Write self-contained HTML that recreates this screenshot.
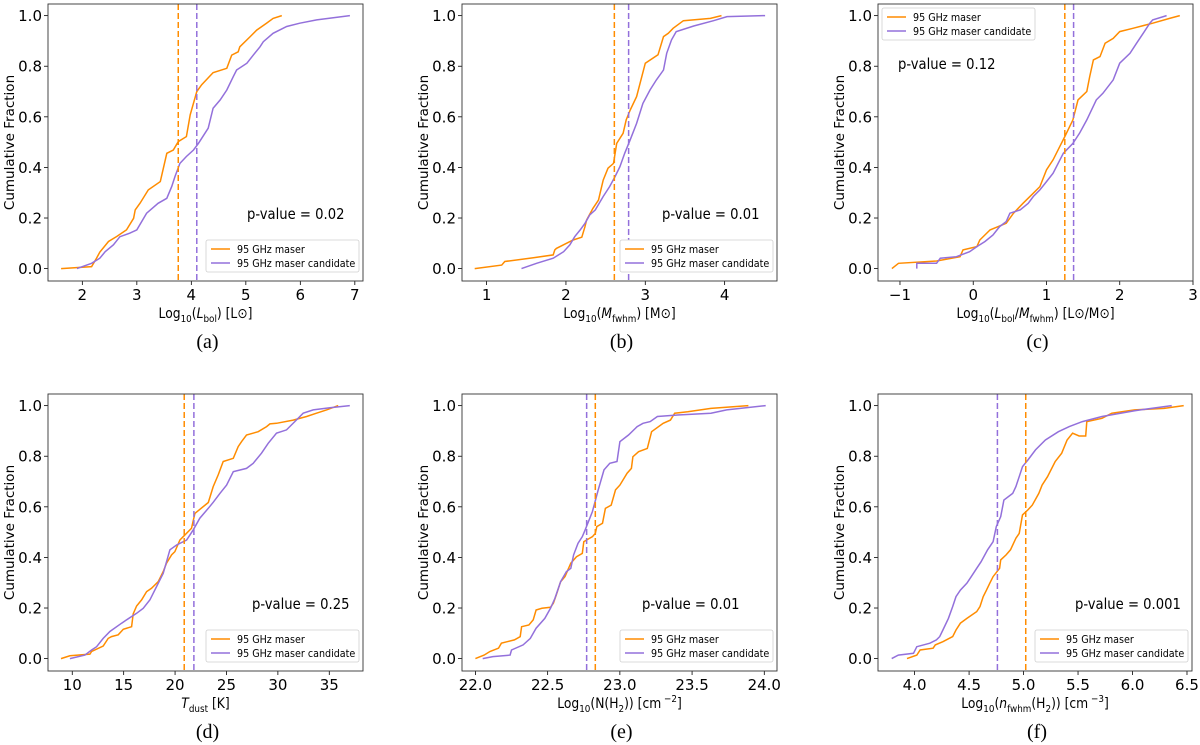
<!DOCTYPE html>
<html><head><meta charset="utf-8"><style>
body{margin:0;background:#fff;width:1200px;height:745px;overflow:hidden}
svg{display:block}
text{font-family:"DejaVu Sans","Liberation Sans",sans-serif;fill:#000}
.cap{font-family:"Liberation Serif",serif;font-size:20px}
</style></head><body>
<svg id="fig" width="1200" height="745" viewBox="0 0 1200 745" xmlns="http://www.w3.org/2000/svg"></svg>
<script>
// ---- data (a) ----
const aOrangeX=[1.61,2.17,2.26,2.32,2.48,2.63,2.81,2.94,2.97,3.06,3.21,3.43,3.55,3.67,3.76,3.91,3.98,4.10,4.19,4.40,4.65,4.74,4.86,4.89,5.08,5.20,5.38,5.50,5.66];
const aOrangeY=[0,.008,.041,.065,.107,.127,.153,.199,.232,.259,.311,.344,.456,.469,.502,.522,.608,.700,.727,.775,.792,.844,.857,.877,.917,.943,.970,.989,1];
const aPurpleX=[1.90,2.17,2.32,2.42,2.57,2.69,2.87,3.00,3.18,3.39,3.55,3.64,3.70,3.79,3.91,4.04,4.13,4.19,4.31,4.40,4.53,4.65,4.77,4.83,5.02,5.14,5.26,5.32,5.50,5.75,5.99,6.30,6.91];
const aPurpleY=[0,.021,.041,.067,.094,.126,.140,.153,.219,.258,.278,.324,.364,.416,.443,.469,.495,.515,.555,.634,.667,.706,.759,.785,.812,.845,.877,.897,.930,.957,.970,.983,1];
const aMedians=[3.76,4.10];
// ---- data (b) ----
const bOrangeX=[0.85,1.19,1.23,1.59,1.84,1.86,1.88,2.09,2.20,2.24,2.26,2.34,2.41,2.43,2.47,2.53,2.60,2.64,2.72,2.76,2.81,2.89,3.00,3.16,3.23,3.29,3.35,3.48,3.82,3.96];
const bOrangeY=[0,.014,.028,.043,.054,.074,.080,.113,.124,.166,.192,.238,.271,.298,.350,.397,.416,.495,.535,.588,.627,.680,.812,.845,.917,.930,.950,.980,.989,1];
const bPurpleX=[1.44,1.63,1.84,1.97,2.05,2.11,2.18,2.24,2.30,2.37,2.47,2.55,2.62,2.68,2.74,2.81,2.89,2.97,3.06,3.14,3.23,3.27,3.33,3.39,3.61,3.86,4.03,4.51];
const bPurpleY=[0,.021,.041,.067,.094,.126,.153,.179,.212,.232,.285,.324,.364,.403,.456,.509,.574,.653,.706,.746,.785,.851,.904,.937,.959,.980,.996,1];
const bMedians=[2.61,2.79];
// ---- data (c) ----
const cOrangeX=[-1.11,-1.02,-0.50,-0.18,-0.14,0.05,0.09,0.23,0.45,0.55,0.68,0.82,0.91,1.00,1.09,1.18,1.25,1.36,1.43,1.55,1.59,1.64,1.73,1.80,1.91,2.00,2.18,2.45,2.68,2.82];
const cOrangeY=[0,.021,.030,.047,.074,.087,.113,.153,.179,.219,.258,.298,.324,.390,.430,.482,.522,.588,.667,.700,.759,.825,.838,.891,.910,.937,.950,.970,.989,1];
const cPurpleX=[-0.77,-0.77,-0.50,-0.45,-0.23,-0.05,0.05,0.16,0.27,0.36,0.45,0.50,0.64,0.75,0.82,0.91,1.00,1.09,1.23,1.36,1.45,1.55,1.68,1.77,1.91,2.00,2.14,2.23,2.32,2.41,2.45,2.64];
const cPurpleY=[0,.021,.021,.041,.047,.067,.087,.107,.133,.166,.186,.219,.232,.258,.285,.311,.344,.377,.456,.495,.535,.588,.667,.693,.746,.812,.851,.891,.930,.970,.983,1];
const cMedians=[1.25,1.37];
// ---- data (d) ----
const dOrangeX=[8.90,9.77,11.72,11.88,13.01,13.50,13.82,14.47,14.96,15.77,15.93,16.26,16.74,17.23,17.71,18.36,18.85,19.17,19.66,19.98,20.47,20.79,21.60,21.93,23.23,23.71,24.20,24.68,25.66,26.14,26.47,26.95,28.09,28.90,29.22,29.87,31.49,32.79,33.76,34.73,35.87];
const dOrangeY=[0,.011,.018,.028,.050,.080,.087,.094,.116,.126,.177,.208,.232,.265,.278,.304,.344,.377,.410,.423,.469,.482,.515,.574,.617,.680,.726,.779,.792,.838,.858,.884,.897,.917,.928,.930,.943,.957,.970,.983,1];
const dPurpleX=[9.77,11.23,11.88,12.37,13.01,13.66,14.80,15.28,16.26,16.90,17.55,18.20,18.85,19.50,20.15,21.12,21.77,22.41,23.23,23.71,24.36,25.01,25.66,26.95,27.60,28.41,29.06,29.87,30.84,31.65,32.46,33.44,35.06,37.0];
const dPurpleY=[0,.014,.034,.047,.080,.107,.140,.153,.179,.199,.232,.285,.337,.430,.449,.469,.509,.555,.594,.618,.653,.686,.739,.752,.772,.812,.851,.891,.904,.937,.970,.983,.992,1];
const dMedians=[20.89,21.83];
// ---- data (e) ----
const eOrangeX=[22.0,22.06,22.10,22.16,22.18,22.22,22.27,22.31,22.32,22.37,22.40,22.42,22.46,22.52,22.54,22.56,22.59,22.62,22.66,22.70,22.74,22.75,22.77,22.81,22.83,22.84,22.88,22.90,22.94,22.97,23.00,23.05,23.08,23.09,23.13,23.19,23.22,23.30,23.35,23.38,23.47,23.63,23.89];
const eOrangeY=[0,.014,.028,.041,.061,.067,.074,.087,.126,.133,.153,.192,.199,.203,.219,.252,.304,.324,.377,.403,.416,.462,.469,.482,.495,.522,.535,.594,.607,.667,.686,.733,.752,.798,.818,.831,.897,.930,.943,.970,.976,.989,1];
const ePurpleX=[22.05,22.12,22.24,22.25,22.33,22.38,22.42,22.48,22.52,22.55,22.59,22.63,22.66,22.68,22.71,22.74,22.76,22.81,22.85,22.89,22.93,22.98,23.00,23.06,23.12,23.16,23.21,23.26,23.40,23.63,23.74,24.01];
const ePurpleY=[0,.008,.014,.034,.054,.080,.120,.159,.199,.238,.304,.344,.357,.410,.456,.482,.509,.581,.667,.746,.772,.779,.858,.884,.917,.930,.937,.957,.963,.970,.983,1];
const eMedians=[22.83,22.77];
// ---- data (f) ----
const fOrangeX=[3.93,4.02,4.05,4.17,4.19,4.26,4.35,4.38,4.42,4.48,4.57,4.60,4.63,4.66,4.69,4.72,4.78,4.79,4.84,4.88,4.93,4.96,4.99,5.04,5.08,5.14,5.17,5.22,5.29,5.35,5.40,5.45,5.51,5.57,5.58,5.72,5.81,6.02,6.29,6.47];
const fOrangeY=[0,.014,.034,.041,.054,.067,.087,.113,.140,.159,.186,.206,.245,.271,.298,.324,.357,.390,.410,.430,.476,.495,.568,.588,.607,.653,.686,.719,.779,.812,.864,.891,.880,.880,.937,.950,.970,.983,.989,1];
const fPurpleX=[3.79,3.85,3.99,4.02,4.14,4.20,4.23,4.26,4.31,4.35,4.38,4.42,4.48,4.52,4.57,4.61,4.67,4.72,4.75,4.79,4.82,4.90,4.93,4.96,4.99,5.04,5.11,5.20,5.32,5.42,5.54,5.72,6.02,6.36];
const fPurpleY=[0,.014,.021,.047,.061,.074,.087,.113,.159,.206,.245,.271,.298,.324,.357,.383,.430,.462,.522,.561,.627,.653,.680,.719,.759,.785,.825,.864,.897,.917,.937,.957,.980,1];
const fMedians=[5.02,4.76];
// ---- ticks ----
const aTicks=[2,3,4,5,6,7];
const bTicks=[1,2,3,4];
const cTicks=[-1,0,1,2,3];
const dTicks=[10,15,20,25,30,35];
const eTicks=[22.0,22.5,23.0,23.5,24.0];
const fTicks=[4.0,4.5,5.0,5.5,6.0,6.5];
const yTicks=[0,0.2,0.4,0.6,0.8,1.0];
const pValues=["0.02","0.01","0.12","0.25","0.01","0.001"];

const NS="http://www.w3.org/2000/svg";
const svg=document.getElementById('fig');
const OR="#ff8c00", PU="#9370db";
function mk(tag,attrs,parent){const e=document.createElementNS(NS,tag);for(const k in attrs)e.setAttribute(k,attrs[k]);(parent||svg).appendChild(e);return e;}
function squeeze(t,f){const w=t.getComputedTextLength();if(w>0){t.setAttribute('textLength',(w*f).toFixed(1));t.setAttribute('lengthAdjust','spacingAndGlyphs');}}

const panels=[
 {id:'a',L:48,R:363,T:4,B:281,x0:1.37,x1:7.15,ticks:aTicks,dec:0,ox:aOrangeX,oy:aOrangeY,px:aPurpleX,py:aPurpleY,med:aMedians,xl:'Log<tspan font-size="10" dy="4">10</tspan><tspan dy="-4">(</tspan><tspan font-style="italic">L</tspan><tspan font-size="10" dy="4">bol</tspan><tspan dy="-4">) [L⊙]</tspan>',pv:[247,219],leg:'br'},
 {id:'b',L:462,R:777,T:4,B:281,x0:0.69,x1:4.66,ticks:bTicks,dec:0,ox:bOrangeX,oy:bOrangeY,px:bPurpleX,py:bPurpleY,med:bMedians,xl:'Log<tspan font-size="10" dy="4">10</tspan><tspan dy="-4">(</tspan><tspan font-style="italic">M</tspan><tspan font-size="10" dy="4">fwhm</tspan><tspan dy="-4">) [M⊙]</tspan>',pv:[662,219],leg:'br'},
 {id:'c',L:878,R:1193,T:4,B:281,x0:-1.30,x1:3.0,ticks:cTicks,dec:0,ox:cOrangeX,oy:cOrangeY,px:cPurpleX,py:cPurpleY,med:cMedians,xl:'Log<tspan font-size="10" dy="4">10</tspan><tspan dy="-4">(</tspan><tspan font-style="italic">L</tspan><tspan font-size="10" dy="4">bol</tspan><tspan dy="-4">/</tspan><tspan font-style="italic">M</tspan><tspan font-size="10" dy="4">fwhm</tspan><tspan dy="-4">) [L⊙/M⊙]</tspan>',pv:[898,69],leg:'tl'},
 {id:'d',L:48,R:363,T:394,B:671,x0:7.64,x1:38.28,ticks:dTicks,dec:0,ox:dOrangeX,oy:dOrangeY,px:dPurpleX,py:dPurpleY,med:dMedians,xl:'<tspan font-style="italic">T</tspan><tspan font-size="10" dy="4">dust</tspan><tspan dy="-4"> [K]</tspan>',pv:[252,609],leg:'br'},
 {id:'e',L:462,R:777,T:394,B:671,x0:21.907,x1:24.088,ticks:eTicks,dec:1,ox:eOrangeX,oy:eOrangeY,px:ePurpleX,py:ePurpleY,med:eMedians,xl:'Log<tspan font-size="10" dy="4">10</tspan><tspan dy="-4">(N(H</tspan><tspan font-size="10" dy="4">2</tspan><tspan dy="-4">)) [cm</tspan><tspan font-size="10" dy="-6"> −2</tspan><tspan dy="6">]</tspan>',pv:[642,609],leg:'br'},
 {id:'f',L:878,R:1192,T:394,B:671,x0:3.664,x1:6.546,ticks:fTicks,dec:1,ox:fOrangeX,oy:fOrangeY,px:fPurpleX,py:fPurpleY,med:fMedians,xl:'Log<tspan font-size="10" dy="4">10</tspan><tspan dy="-4">(</tspan><tspan font-style="italic">n</tspan><tspan font-size="10" dy="4">fwhm</tspan><tspan dy="-4">(H</tspan><tspan font-size="10" dy="4">2</tspan><tspan dy="-4">)) [cm</tspan><tspan font-size="10" dy="-6"> −3</tspan><tspan dy="6">]</tspan>',pv:[1075,609],leg:'br'}
];
const Y0=-0.049,Y1=1.046;

panels.forEach(p=>{
  const g=mk('g',{});
  
  
  const sx=v=>p.L+(v-p.x0)/(p.x1-p.x0)*(p.R-p.L);
  const sy=v=>p.B-(v-Y0)/(Y1-Y0)*(p.B-p.T);
  yTicks.forEach(t=>{
    const y=sy(t);
    const tk=mk('line',{x1:p.L-4,x2:p.L,y1:y,y2:y,stroke:'#000','stroke-width':0.8},g);
    
    
    const tx=mk('text',{x:p.L-6,y:y+5.5,'text-anchor':'end','font-size':15},g);
    tx.textContent=t.toFixed(1);
    
    
  });
  p.ticks.forEach(t=>{
    const x=sx(t);
    const tk=mk('line',{x1:x,x2:x,y1:p.B,y2:p.B+4,stroke:'#000','stroke-width':0.8},g);
    
    
    const tx=mk('text',{x:x,y:p.B+19,'text-anchor':'middle','font-size':15},g);
    tx.textContent=(t<0?'−':'')+Math.abs(t).toFixed(p.dec);
    
    
  });
  const yl=mk('text',{x:0,y:0,'text-anchor':'middle','font-size':13.5,transform:`translate(${p.L-34},${(p.T+p.B)/2}) rotate(-90)`},g);
  yl.textContent='Cumulative Fraction';
  
  
  const xl=mk('text',{x:(p.L+p.R)/2,y:p.B+37,'text-anchor':'middle','font-size':14},g);
  xl.innerHTML=p.xl;
  
  
  squeeze(xl,0.88);
  const cp=mk('clipPath',{id:'clip'+p.id},g);
  mk('rect',{x:p.L,y:p.T,width:p.R-p.L,height:p.B-p.T},cp);
  const inner=mk('g',{'clip-path':`url(#clip${p.id})`},g);
  [[p.ox,p.oy,OR,'maser-cdf-line'],[p.px,p.py,PU,'candidate-cdf-line']].forEach(([xs,ys,c,n])=>{
    const d=xs.map((v,i)=>(i?'L':'M')+sx(v).toFixed(1)+','+sy(ys[i]).toFixed(1)).join('');
    const pa=mk('path',{d:d,fill:'none',stroke:c,'stroke-width':1.5},inner);
    
    
  });
  [[p.med[0],OR,'maser-median-line'],[p.med[1],PU,'candidate-median-line']].forEach(([m,c,n])=>{
    const ln=mk('line',{x1:sx(m),x2:sx(m),y1:p.T,y2:p.B,stroke:c,'stroke-width':1.5,'stroke-dasharray':'6,3'},inner);
    
    
  });
  const fr=mk('rect',{x:p.L,y:p.T,width:p.R-p.L,height:p.B-p.T,fill:'none',stroke:'#333','stroke-width':0.9},g);
  
  
  const pv=mk('text',{x:p.pv[0],y:p.pv[1],'font-size':15.5},g);
  pv.textContent='p-value = '+pValues[panels.indexOf(p)];
  
  
  squeeze(pv,0.85);
  const lw=153,lh=32;
  const lx=p.leg==='br'?p.R-lw-4:p.L+4;
  const ly=p.leg==='br'?p.B-lh-9:p.T+4;
  const lg=mk('g',{},g);
  
  
  mk('rect',{x:lx,y:ly,width:lw,height:lh,rx:2,fill:'#fff',stroke:'#d0d0d0','stroke-width':0.8},lg);
  [['95 GHz maser',OR],['95 GHz maser candidate',PU]].forEach(([t,c],i)=>{
    const yy=ly+9+i*14;
    mk('line',{x1:lx+5,x2:lx+24,y1:yy,y2:yy,stroke:c,'stroke-width':1.5},lg);
    const tt=mk('text',{x:lx+31,y:yy+4,'font-size':10.5},lg);
    tt.textContent=t;
    
    
    squeeze(tt,0.91);
  });
  const cap=mk('text',{x:(p.L+p.R)/2+2,y:p.B+67,'text-anchor':'middle',class:'cap'},svg);
  cap.textContent='('+p.id+')';
  
  
});
</script>
</body></html>
